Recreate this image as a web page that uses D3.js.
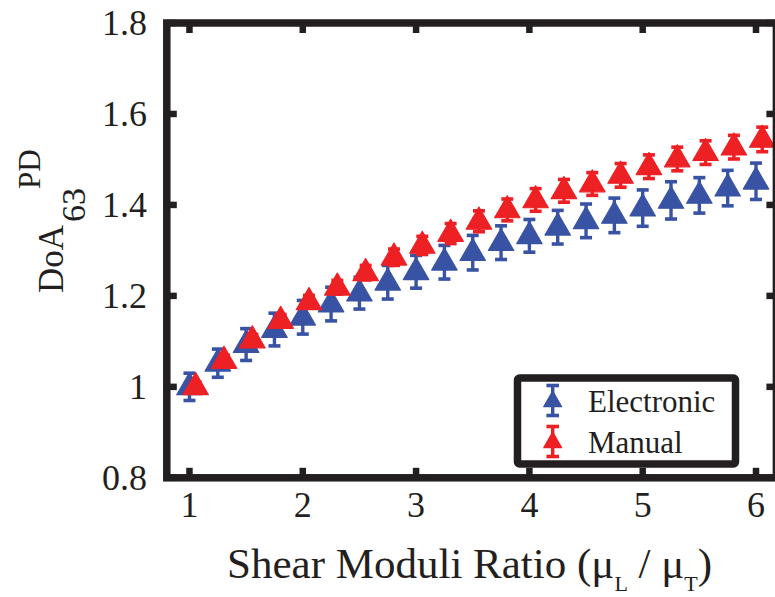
<!DOCTYPE html>
<html>
<head>
<meta charset="utf-8">
<script src="https://cdn.jsdelivr.net/npm/d3@7"></script>
<style>
  html, body { margin: 0; padding: 0; background: #fff; }
  svg { display: block; }
  text { font-family: "Liberation Serif", "Times New Roman", serif; fill: #231f20; }
</style>
</head>
<body>
<svg id="chart" width="775" height="597"></svg>
<script>
// Shear modulus ratio (x) and normalised DoA values with error half-widths
const ratios = [1.00, 1.25, 1.50, 1.75, 2.00, 2.25, 2.50, 2.75, 3.00, 3.25, 3.50,
                3.75, 4.00, 4.25, 4.50, 4.75, 5.00, 5.25, 5.50, 5.75, 6.00];
const electronic = [1.000, 1.052, 1.093, 1.126, 1.153, 1.182, 1.206, 1.230, 1.253, 1.274, 1.295,
                    1.317, 1.332, 1.351, 1.365, 1.377, 1.393, 1.410, 1.421, 1.437, 1.452];
const electronicErr = [0.030, 0.031, 0.035, 0.036, 0.037, 0.037, 0.035, 0.037, 0.036, 0.037, 0.038,
                       0.037, 0.036, 0.037, 0.037, 0.038, 0.040, 0.041, 0.039, 0.039, 0.040];
const manual = [1.000, 1.058, 1.103, 1.146, 1.187, 1.219, 1.251, 1.285, 1.311, 1.337, 1.364,
                1.389, 1.411, 1.431, 1.446, 1.465, 1.484, 1.501, 1.515, 1.527, 1.544];
const manualErr = [0.010, 0.011, 0.012, 0.013, 0.014, 0.015, 0.016, 0.018, 0.020, 0.022, 0.023,
                   0.024, 0.025, 0.025, 0.025, 0.026, 0.026, 0.026, 0.026, 0.026, 0.027];
const seriesNames = ["Electronic", "Manual"];
const seriesColors = ["#3953a4", "#ed2024"];
const xTicks = [1, 2, 3, 4, 5, 6];
const yTicks = [0.8, 1.0, 1.2, 1.4, 1.6, 1.8];
const yTickLabels = ["0.8", "1", "1.2", "1.4", "1.6", "1.8"];

const svg = d3.select("#chart");
const ink = "#231f20";

const x = d3.scaleLinear().domain([0.8, 6.18]).range([166.8, 776.4]);
const y = d3.scaleLinear().domain([0.8, 1.8]).range([477.8, 23]);

const frameW = 7.5;
const tickLen = 10;

const series = [
  { name: seriesNames[0], color: seriesColors[0], vals: electronic, err: electronicErr, dx: 0 },
  { name: seriesNames[1], color: seriesColors[1], vals: manual, err: manualErr, dx: 0.055 }
];

const tri = d3.symbol().type(d3.symbolTriangle);

// error bar with caps, topped by a filled triangle marker
function drawMarker(g, cx, cyVal, cyLo, cyHi, color, triSize, capHalf) {
  g.append("line")
    .attr("x1", cx).attr("x2", cx).attr("y1", cyLo).attr("y2", cyHi)
    .attr("stroke", color).attr("stroke-width", 3.4);
  [cyLo, cyHi].forEach(cy => {
    g.append("line")
      .attr("x1", cx - capHalf).attr("x2", cx + capHalf).attr("y1", cy).attr("y2", cy)
      .attr("stroke", color).attr("stroke-width", 3.6);
  });
  g.append("path")
    .attr("d", tri.size(triSize)())
    .attr("transform", `translate(${cx},${cyVal})`)
    .attr("fill", color)
    .attr("stroke", color).attr("stroke-width", 1.2).attr("stroke-linejoin", "round");
}

const dataLayer = svg.append("g");
series.forEach(s => {
  const g = dataLayer.append("g");
  ratios.forEach((r, i) => {
    const cx = x(r + s.dx);
    drawMarker(g, cx, y(s.vals[i]) + 0.5,
      y(s.vals[i] + s.err[i]), y(s.vals[i] - s.err[i]),
      s.color, 280, 6);
  });
});

// axes frame with inward ticks on all four sides
const frame = svg.append("g");
const [x0, x1] = x.range();
const [yb, yt] = y.range();
frame.append("rect")
  .attr("x", x0).attr("y", yt)
  .attr("width", x1 - x0).attr("height", yb - yt)
  .attr("fill", "none").attr("stroke", ink).attr("stroke-width", frameW);

xTicks.forEach(t => {
  frame.append("line").attr("x1", x(t)).attr("x2", x(t)).attr("y1", yb).attr("y2", yb - tickLen)
    .attr("stroke", ink).attr("stroke-width", 6.5);
  frame.append("line").attr("x1", x(t)).attr("x2", x(t)).attr("y1", yt).attr("y2", yt + tickLen)
    .attr("stroke", ink).attr("stroke-width", 6.5);
});
yTicks.forEach(t => {
  frame.append("line").attr("x1", x0).attr("x2", x0 + tickLen).attr("y1", y(t)).attr("y2", y(t))
    .attr("stroke", ink).attr("stroke-width", 6.5);
  frame.append("line").attr("x1", x1).attr("x2", x1 - tickLen).attr("y1", y(t)).attr("y2", y(t))
    .attr("stroke", ink).attr("stroke-width", 6.5);
});

// tick labels
svg.append("g").selectAll("text").data(xTicks).join("text")
  .attr("x", d => x(d)).attr("y", 517)
  .attr("text-anchor", "middle")
  .style("font-size", "36px")
  .text(d => d);

svg.append("g").selectAll("text").data(yTicks).join("text")
  .attr("x", 147).attr("y", d => y(d) + 12)
  .attr("text-anchor", "end")
  .style("font-size", "36px")
  .text((d, i) => yTickLabels[i]);

// x axis title with subscripts
const xt = svg.append("text")
  .attr("x", (x0 + x1) / 2 - 2).attr("y", 578)
  .attr("text-anchor", "middle")
  .style("font-size", "43px");
xt.append("tspan").text("Shear Moduli Ratio (\u03bc");
xt.append("tspan").attr("dy", 13).style("font-size", "22px").text("L");
xt.append("tspan").attr("dy", -13).text(" / \u03bc");
xt.append("tspan").attr("dy", 13).style("font-size", "22px").text("T");
xt.append("tspan").attr("dy", -13).text(")");

// y axis title: DoA with subscript 63 and superscript PD
const yl = svg.append("g").attr("transform", "translate(63,293) rotate(-90)");
yl.append("text").attr("x", 0).attr("y", 0).style("font-size", "35px").text("DoA");
yl.append("text").attr("x", 71).attr("y", 22).style("font-size", "34px").text("63");
yl.append("text").attr("x", 104).attr("y", -23).style("font-size", "31px").text("PD");

// legend
const lg = svg.append("g");
lg.append("rect")
  .attr("x", 517.5).attr("y", 378).attr("width", 218).attr("height", 86)
  .attr("rx", 2)
  .attr("fill", "#fff").attr("stroke", ink).attr("stroke-width", 7.5);
series.forEach((s, i) => {
  const cy = 400.5 + i * 41;
  drawMarker(lg, 552.7, cy + 1, cy - 15, cy + 15, s.color, 140, 6.3);
  lg.append("text")
    .attr("x", 588).attr("y", cy + 11.5)
    .style("font-size", "31px")
    .text(s.name);
});
</script>
</body>
</html>
